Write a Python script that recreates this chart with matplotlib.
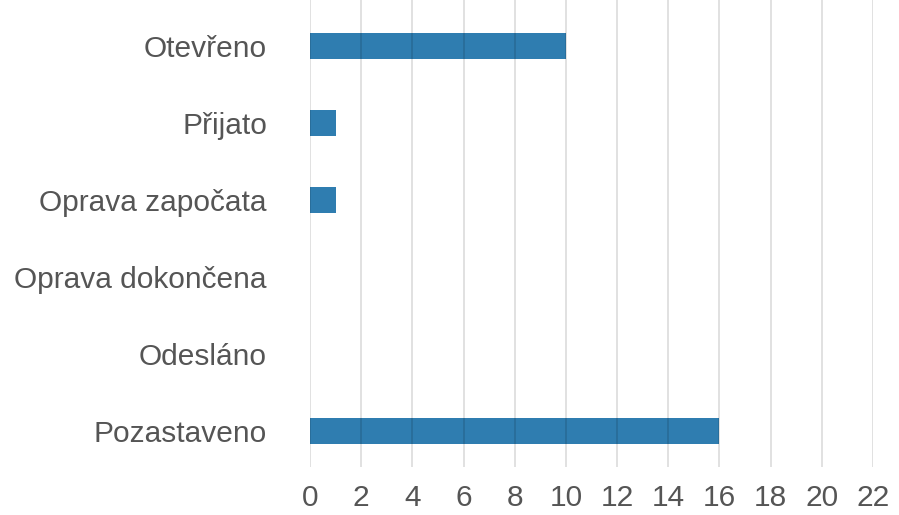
import matplotlib.pyplot as plt

# stavy a počty
categories = ["Otevřeno", "Přijato", "Oprava započata", "Oprava dokončena", "Odesláno", "Pozastaveno"]
counts = [10, 1, 1, 0, 0, 16]
xticks = list(range(0, 23, 2))

plt.rcParams['font.family'] = ['Liberation Sans', 'DejaVu Sans']

fig = plt.figure(figsize=(8.99, 5.15), dpi=100)
ax = fig.add_axes([310/899, 1 - 467/515, (873 - 310)/899, 467/515])

ypos = list(range(len(categories)))
ax.barh(ypos, counts, height=0.33, color='#2f7db0', linewidth=0, zorder=2)

ax.set_xlim(0, 22)
ax.set_ylim(5.47, -0.6)
ax.set_xticks(xticks)
ax.set_yticks(ypos)
ax.set_yticklabels(categories)
ax.xaxis.grid(True, color='black', alpha=0.13, linewidth=1.3, zorder=3)
ax.set_axisbelow(False)
for s in ax.spines.values():
    s.set_visible(False)
ax.tick_params(axis='both', length=0, labelsize=21.5, colors='#555555')
ax.tick_params(axis='y', pad=31)
ax.tick_params(axis='x', pad=12)

fig.savefig('out.png', dpi=100)
